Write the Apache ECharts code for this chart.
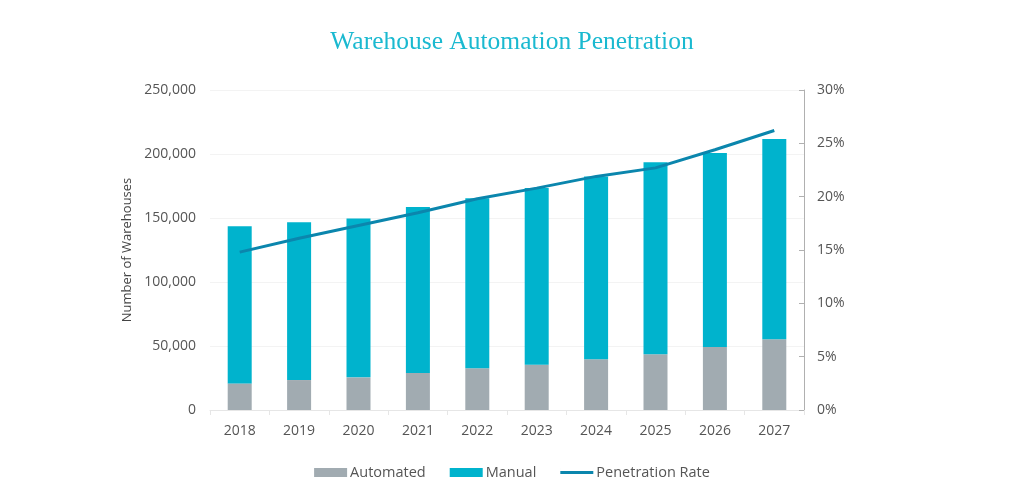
<!DOCTYPE html>
<html><head><meta charset="utf-8">
<script src="https://cdn.jsdelivr.net/npm/echarts@6/dist/echarts.min.js"></script>
<style>html,body{margin:0;padding:0;background:#fff}#c{width:1024px;height:504px}</style>
</head><body><div id="c"></div>
<script>
var years = ['2018','2019','2020','2021','2022','2023','2024','2025','2026','2027'];
var automated = [20800, 23400, 25500, 28900, 32600, 35400, 39600, 43500, 49200, 55200];
var manual = [122700, 123200, 124200, 129700, 132800, 138000, 142900, 150000, 151600, 156600];
var penetration = [14.8, 16.1, 17.3, 18.5, 19.8, 20.8, 21.9, 22.7, 24.4, 26.2];
var leftTicks = [0, 50000, 100000, 150000, 200000, 250000];
var rightTicks = [0, 5, 10, 15, 20, 25, 30];

var chart = echarts.init(document.getElementById('c'));
var font = '"Open Sans", "Noto Sans", sans-serif';
chart.setOption({
  animation: false,
  title: {
    text: 'Warehouse Automation Penetration',
    left: 'center', top: 24,
    textStyle: {fontFamily: '"Liberation Serif", "DejaVu Serif", serif', fontWeight: 'normal', fontSize: 25.5, color: '#1ab9d0'}
  },
  legend: {
    bottom: 19, left: 'center',
    itemWidth: 33, itemHeight: 9, itemGap: 24,
    textStyle: {fontFamily: font, fontSize: 14.5, color: '#555', padding: [0, 0, 0, -2]},
    data: [
      {name: 'Automated', icon: 'rect'},
      {name: 'Manual', icon: 'rect'},
      {name: 'Penetration Rate', icon: 'path://M0,0 L0.01,0 L0.01,3 L33,3 L33,6 L0.01,6 L0.01,9 L0,9 Z M33,0 L32.99,0 L32.99,9 L33,9 Z'}
    ]
  },
  grid: {left: 210, right: 220, top: 90, bottom: 94},
  xAxis: {
    type: 'category', data: years,
    axisLine: {lineStyle: {color: '#e6e6e6'}},
    axisTick: {show: true, lineStyle: {color: '#e6e6e6'}},
    axisLabel: {fontFamily: font, fontSize: 14, color: '#555', margin: 14}
  },
  yAxis: [{
    type: 'value', min: 0, max: 250000, interval: 50000,
    name: 'Number of Warehouses', nameLocation: 'middle', nameGap: 72, nameRotate: 90,
    nameTextStyle: {fontFamily: font, fontSize: 13, color: '#444'},
    axisLine: {show: false}, axisTick: {show: false},
    axisLabel: {fontFamily: font, fontSize: 14, color: '#555', margin: 14,
      formatter: function (v) { return leftTicks.indexOf(v) >= 0 ? v.toLocaleString('en-US') : ''; }},
    splitLine: {lineStyle: {color: '#f3f3f3'}}
  }, {
    type: 'value', min: 0, max: 30, interval: 5, position: 'right',
    axisLine: {show: true, lineStyle: {color: '#b0b0b0'}},
    axisTick: {show: true, inside: true, length: 5, lineStyle: {color: '#b0b0b0'}},
    axisLabel: {fontFamily: font, fontSize: 14, color: '#555', margin: 13,
      formatter: function (v) { return rightTicks.indexOf(v) >= 0 ? v + '%' : ''; }},
    splitLine: {show: false}
  }],
  series: [{
    name: 'Automated', type: 'bar', stack: 'w', data: automated, barWidth: 24,
    itemStyle: {color: '#a1abb1'}
  }, {
    name: 'Manual', type: 'bar', stack: 'w', data: manual, barWidth: 24,
    itemStyle: {color: '#00b3cd'}
  }, {
    name: 'Penetration Rate', type: 'line', yAxisIndex: 1, data: penetration,
    symbol: 'none', smooth: false,
    lineStyle: {color: '#0b86ad', width: 3},
    itemStyle: {color: '#0b86ad'}
  }]
});
</script></body></html>
